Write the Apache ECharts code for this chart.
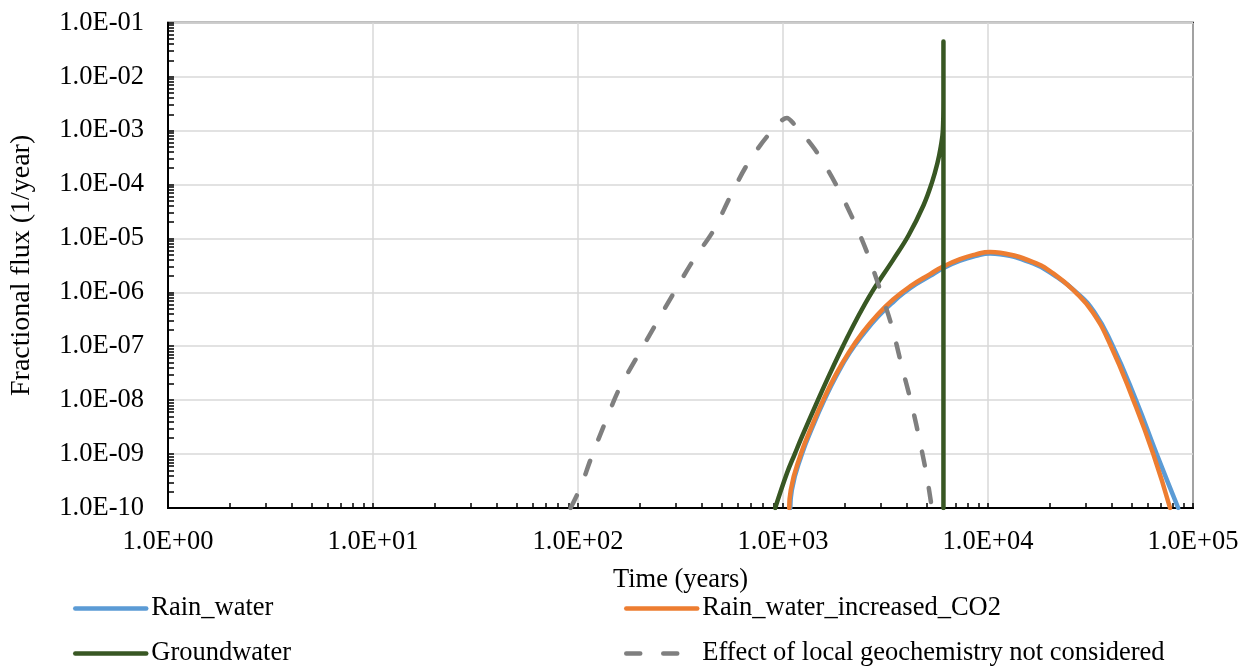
<!DOCTYPE html>
<html>
<head>
<meta charset="utf-8">
<script src="https://cdn.jsdelivr.net/npm/echarts@6/dist/echarts.min.js"></script>
<style>
  html, body { margin: 0; padding: 0; background: #fff; }
  #chart { width: 1255px; height: 667px; }
</style>
</head>
<body>
<div id="chart"></div>
<script>
// values: [time (years), fractional flux (1/year)]
const rainWater = [
  [1085, 1e-10], [1104, 2.14e-10], [1237, 1e-9], [1404, 3.4e-9], [1590, 1e-8], [1822, 2.85e-8],
  [2110, 7.45e-8], [2470, 1.7e-7], [2920, 3.6e-7], [3490, 6.9e-7], [4169, 1.2e-6],
  [5222, 2.02e-6], [6039, 2.8e-6], [7311, 3.85e-6], [8650, 4.68e-6], [10233, 5.25e-6],
  [11455, 5.08e-6], [16600, 3.42e-6], [20893, 2.1e-6], [27000, 1e-6], [33000, 4.3e-7],
  [40200, 1.1e-7], [52700, 1e-8], [66500, 1e-9], [84700, 1e-10]
]
const rainWaterCO2 = [
  [1072, 1e-10], [1091, 2.14e-10], [1222, 1e-9], [1387, 3.4e-9], [1570, 1e-8], [1799, 2.85e-8],
  [2084, 7.45e-8], [2439, 1.77e-7], [2884, 3.79e-7], [3445, 7.35e-7], [4169, 1.29e-6],
  [5222, 2.18e-6], [6039, 3.0e-6], [7311, 4.12e-6], [8650, 5.0e-6], [10233, 5.62e-6],
  [11455, 5.41e-6], [16600, 3.63e-6], [20893, 2.22e-6], [26607, 1.02e-6], [32359, 4.3e-7],
  [39355, 1.1e-7], [51168, 1e-8], [64000, 1e-9], [77268, 1e-10]
]
const groundwater = [
  [916, 1e-10], [1045, 4.4e-10], [1141, 1e-9], [1237, 2.1e-9], [1480, 1e-8], [1700, 3.2e-8],
  [1960, 1e-7], [2290, 3.2e-7], [2710, 1e-6], [3445, 4e-6], [4093, 1.13e-5], [4842, 4.07e-5],
  [5321, 1.07e-4], [5664, 2.47e-4], [5888, 5.1e-4], [6025, 1.01e-3], [6063, 3.7e-3],
  [6063, 0.0447], [6063, 1e-10]
]
const noGeochem = [
  [92, 1e-10], [103, 2.45e-10], [115, 7.8e-10], [133, 3.2e-9], [158, 1.55e-8], [194, 6.3e-8],
  [238, 2.45e-7], [292, 9.5e-7], [366, 4e-6], [458, 1.4e-5], [552, 5.9e-5], [667, 2.3e-4],
  [849, 8.3e-4], [1045, 1.7e-3], [1125, 1.35e-3], [1435, 4.4e-4], [1800, 1.05e-4],
  [2170, 2.5e-5], [2565, 5.6e-6], [2980, 1.1e-6], [3400, 2.3e-7], [3800, 4.2e-8],
  [4250, 8.1e-9], [4670, 1.6e-9], [5035, 3.8e-10], [5320, 1e-10]
]

const seriesNames = ['Rain_water', 'Rain_water_increased_CO2', 'Groundwater', 'Effect of local geochemistry not considered']
const seriesColors = ['#5B9BD5', '#ED7D31', '#385723', '#7F7F7F']

// minor tick positions (2..9 inside each decade), in exponent space
const minorMultiples = [2, 3, 4, 5, 6, 7, 8, 9]
function minorTicks(fromExp, toExp) {
  const out = []
  for (let e = fromExp; e < toExp; e++) {
    minorMultiples.forEach(k => out.push(e + Math.log10(k)))
  }
  return out
}

function sci(v) {
  const e = Math.round(Math.log10(v))
  return '1.0E' + (e < 0 ? '-' : '+') + String(Math.abs(e)).padStart(2, '0')
}

const FONT = 'Liberation Serif'
const textStyle = { fontFamily: FONT, fontSize: 26.5, color: '#000' }

const chart = echarts.init(document.getElementById('chart'), null, { renderer: 'canvas' })

function legendAt(name, left, top) {
  return {
    data: [name],
    left, top,
    padding: 0,
    itemWidth: 71,
    itemHeight: 14,
    itemGap: 0,
    textStyle: { ...textStyle },
    lineStyle: { width: 4.5, cap: 'round' },
    itemStyle: { opacity: 0 },
    selectedMode: false
  }
}

const option = {
  backgroundColor: '#fff',
  animation: false,
  grid: {
    left: 167.5,
    top: 22.7,
    right: 62,
    bottom: 159,
    show: true,
    borderColor: '#000',
    borderWidth: 2,
    containLabel: false
  },
  legend: [
    legendAt(seriesNames[0], 73, 595),
    legendAt(seriesNames[1], 624, 595),
    legendAt(seriesNames[2], 73, 640),
    legendAt(seriesNames[3], 624, 640)
  ],
  xAxis: [
    {
      type: 'log',
      logBase: 10,
      min: 1,
      max: 1e5,
      interval: 1,
      position: 'bottom',
      name: 'Time (years)',
      nameLocation: 'middle',
      nameGap: 59,
      nameTextStyle: textStyle,
      axisLine: { show: true, lineStyle: { color: '#000', width: 2 } },
      axisTick: { show: true, inside: true, length: 5, lineStyle: { color: '#000', width: 1.5 } },
      axisLabel: { ...textStyle, margin: 21, formatter: sci },
      splitLine: { show: true, lineStyle: { color: '#D9D9D9', width: 1.5 } }
    },
    {
      type: 'value',
      min: 0,
      max: 5,
      position: 'bottom',
      axisLine: { show: false },
      axisLabel: { show: false },
      splitLine: { show: false },
      axisTick: {
        show: true, inside: true, length: 5,
        customValues: minorTicks(0, 5),
        lineStyle: { color: '#000', width: 1.5 }
      }
    }
  ],
  yAxis: [
    {
      type: 'log',
      logBase: 10,
      min: 1e-10,
      max: 1e-1,
      interval: 1,
      position: 'left',
      name: 'Fractional flux (1/year)',
      nameLocation: 'middle',
      nameRotate: 90,
      nameGap: 132,
      nameTextStyle: { ...textStyle, fontSize: 28 },
      axisLine: { show: true, lineStyle: { color: '#000', width: 2 } },
      axisTick: { show: true, inside: true, length: 6, lineStyle: { color: '#000', width: 1.5 } },
      axisLabel: { ...textStyle, margin: 24, formatter: sci },
      splitLine: { show: true, lineStyle: { color: '#D9D9D9', width: 1.5 } }
    },
    {
      type: 'value',
      min: -10,
      max: -1,
      position: 'left',
      axisLine: { show: false },
      axisLabel: { show: false },
      splitLine: { show: false },
      axisTick: {
        show: true, inside: true, length: 6,
        customValues: minorTicks(-10, -1),
        lineStyle: { color: '#000', width: 1.5 }
      }
    }
  ],
  series: [
    {
      name: seriesNames[0],
      type: 'line',
      data: rainWater,
      symbol: 'none',
      smooth: 0.5,
      lineStyle: { color: seriesColors[0], width: 4.5, cap: 'round', join: 'round' },
      itemStyle: { color: seriesColors[0] }
    },
    {
      name: seriesNames[1],
      type: 'line',
      data: rainWaterCO2,
      symbol: 'none',
      smooth: 0.5,
      lineStyle: { color: seriesColors[1], width: 4.5, cap: 'round', join: 'round' },
      itemStyle: { color: seriesColors[1] }
    },
    {
      name: seriesNames[2],
      type: 'line',
      data: groundwater,
      symbol: 'none',
      smooth: 0.4,
      lineStyle: { color: seriesColors[2], width: 4.5, cap: 'round', join: 'round' },
      itemStyle: { color: seriesColors[2] }
    },
    {
      name: seriesNames[3],
      type: 'line',
      data: noGeochem,
      symbol: 'none',
      smooth: 0.3,
      lineStyle: { color: seriesColors[3], width: 4.5, type: [14, 23], cap: 'round', join: 'round' },
      itemStyle: { color: seriesColors[3] }
    }
  ]
}

chart.setOption(option)
</script>
</body>
</html>
